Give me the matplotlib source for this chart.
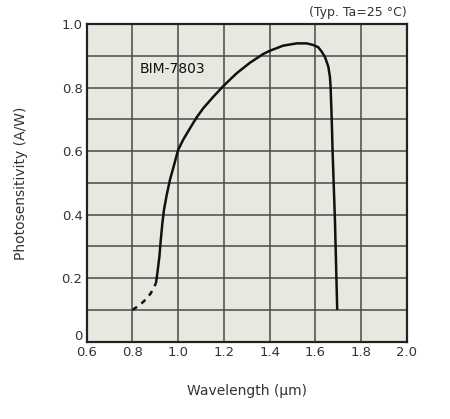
import matplotlib
matplotlib.use("Agg")
import matplotlib.pyplot as plt
import matplotlib.transforms as mtransforms

# Data
dash_wl = [0.80, 0.825, 0.85, 0.88, 0.903]
dash_ps = [0.100, 0.112, 0.127, 0.152, 0.184]

solid_wl = [0.903, 0.909, 0.918, 0.924, 0.931, 0.938, 0.950, 0.964, 0.982, 1.000,
            1.023, 1.052, 1.080, 1.110, 1.154, 1.198, 1.256, 1.314, 1.373, 1.402,
            1.460, 1.519, 1.562, 1.591, 1.613, 1.628, 1.643, 1.657, 1.664, 1.667,
            1.672, 1.676, 1.686, 1.696]
solid_ps = [0.184, 0.215, 0.268, 0.320, 0.373, 0.415, 0.462, 0.509, 0.556, 0.604,
            0.637, 0.672, 0.705, 0.735, 0.771, 0.805, 0.845, 0.878, 0.906, 0.916,
            0.932, 0.939, 0.939, 0.934, 0.927, 0.913, 0.895, 0.866, 0.834, 0.803,
            0.698, 0.593, 0.383, 0.100]

xticks = [0.6, 0.8, 1.0, 1.2, 1.4, 1.6, 1.8, 2.0]
xticklabels = ["0.6", "0.8", "1.0", "1.2", "1.4", "1.6", "1.8", "2.0"]
yticks = [0.0, 0.2, 0.4, 0.6, 0.8, 1.0]
yticklabels = ["0", "0.2", "0.4", "0.6", "0.8", "1.0"]
ygrid = [0.1 * i for i in range(11)]

text_color = "#333333"

fig = plt.figure(figsize=(4.5, 4.19), dpi=100)
ax = fig.add_axes([0.1927, 0.1845, 0.7111, 0.7582])
ax.set_facecolor("#e9e8e0")

ax.set_xlim(0.6, 2.0)
ax.set_ylim(0.0, 1.0)

for x in xticks:
    ax.axvline(x, color="#4a4a4a", lw=1.1, zorder=1)
for y in ygrid:
    ax.axhline(y, color="#4a4a4a", lw=1.1, zorder=1)

ax.plot(solid_wl, solid_ps, color="#111111", lw=1.8, zorder=3,
        solid_joinstyle="round", solid_capstyle="butt")
ax.plot(dash_wl, dash_ps, color="#111111", lw=1.8, ls=(0, (2.2, 2.2)), zorder=3)

ax.set_xticks(xticks)
ax.set_xticklabels(xticklabels)
ax.set_yticks(yticks)
ax.set_yticklabels(yticklabels)
ax.tick_params(length=0, labelsize=9.5, colors=text_color, pad=3)

# lift the "0" label slightly above "0.6" as in the reference
ylabels = ax.get_yticklabels()
off = mtransforms.ScaledTranslation(0, 5 / 72, fig.dpi_scale_trans)
ylabels[0].set_transform(ylabels[0].get_transform() + off)

for s in ax.spines.values():
    s.set_color("#222222")
    s.set_linewidth(1.6)
    s.set_zorder(4)

ax.set_xlabel("Wavelength (μm)", fontsize=10, color=text_color, labelpad=18)
ax.set_ylabel("Photosensitivity (A/W)", fontsize=10, color=text_color, labelpad=24)

ax.text(0.833, 0.858, "BIM-7803", fontsize=10, color="#111111",
        ha="left", va="center", zorder=5)
ax.text(1.0, 1.015, "(Typ. Ta=25 °C)", transform=ax.transAxes,
        fontsize=9, color=text_color, ha="right", va="bottom")

fig.savefig("out.png", dpi=100, facecolor="white")
